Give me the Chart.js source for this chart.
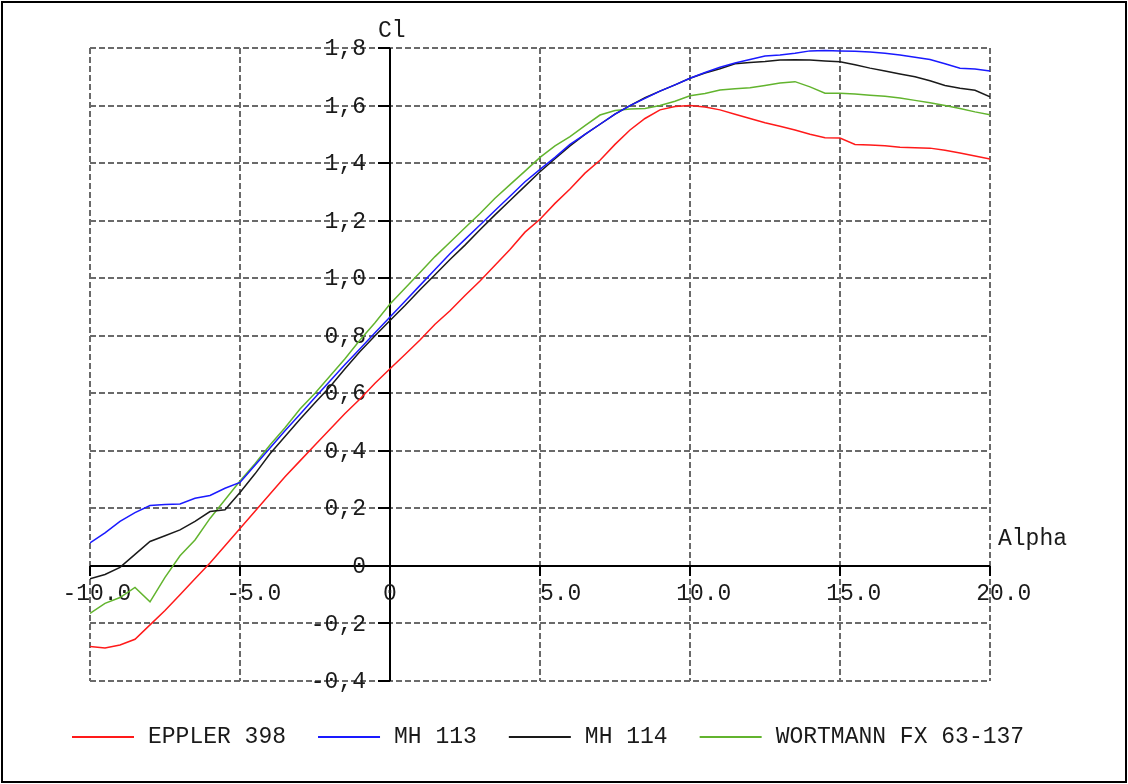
<!DOCTYPE html>
<html>
<head>
<meta charset="utf-8">
<title>Cl vs Alpha</title>
<script src="https://cdn.jsdelivr.net/npm/chart.js@4.4.1/dist/chart.umd.min.js"></script>
<style>
  html, body { margin: 0; padding: 0; background: #fff; }
  #wrap { width: 1128px; height: 784px; }
</style>
</head>
<body>
<div id="wrap"><canvas id="polar" width="1128" height="784"></canvas></div>
<script>
// angle of attack (deg)
const alpha = [-10, -9.5, -9, -8.5, -8, -7.5, -7, -6.5, -6, -5.5, -5, -4.5, -4, -3.5, -3, -2.5, -2, -1.5, -1, -0.5,
  0, 0.5, 1, 1.5, 2, 2.5, 3, 3.5, 4, 4.5, 5, 5.5, 6, 6.5, 7, 7.5, 8, 8.5, 9, 9.5,
  10, 10.5, 11, 11.5, 12, 12.5, 13, 13.5, 14, 14.5, 15, 15.5, 16, 16.5, 17, 17.5, 18, 18.5, 19, 19.5, 20];

// lift coefficient per airfoil
const eppler398 = [-0.28, -0.285, -0.275, -0.255, -0.205, -0.155, -0.1, -0.045, 0.01, 0.07,
  0.13, 0.19, 0.25, 0.31, 0.365, 0.42, 0.475, 0.53, 0.58, 0.635,
  0.685, 0.735, 0.785, 0.84, 0.887, 0.94, 0.99, 1.045, 1.1, 1.16,
  1.205, 1.26, 1.31, 1.365, 1.41, 1.465, 1.515, 1.555, 1.585, 1.597,
  1.6, 1.595, 1.585, 1.57, 1.555, 1.54, 1.528, 1.515, 1.5, 1.488,
  1.487, 1.465, 1.463, 1.46, 1.455, 1.453, 1.452, 1.445, 1.435, 1.425, 1.414];

const mh113 = [0.08, 0.115, 0.155, 0.185, 0.21, 0.213, 0.215, 0.235, 0.245, 0.27,
  0.29, 0.35, 0.41, 0.47, 0.527, 0.585, 0.643, 0.7, 0.755, 0.81,
  0.865, 0.92, 0.975, 1.03, 1.085, 1.135, 1.185, 1.235, 1.285, 1.335,
  1.378, 1.42, 1.465, 1.5, 1.535, 1.57, 1.6, 1.625, 1.65, 1.672,
  1.695, 1.715, 1.733, 1.748, 1.76, 1.772, 1.776, 1.782, 1.79, 1.791,
  1.79, 1.789, 1.786, 1.782, 1.776, 1.768, 1.76, 1.745, 1.73, 1.727, 1.72];

const mh114 = [-0.045, -0.03, -0.005, 0.04, 0.085, 0.105, 0.125, 0.155, 0.189, 0.195,
  0.255, 0.32, 0.39, 0.45, 0.51, 0.567, 0.623, 0.685, 0.745, 0.8,
  0.853, 0.905, 0.96, 1.012, 1.065, 1.115, 1.168, 1.22, 1.27, 1.32,
  1.37, 1.415, 1.46, 1.5, 1.535, 1.57, 1.6, 1.627, 1.65, 1.672,
  1.695, 1.713, 1.728, 1.745, 1.75, 1.753, 1.758, 1.759, 1.758, 1.755,
  1.752, 1.742, 1.73, 1.72, 1.71, 1.7, 1.686, 1.67, 1.66, 1.653, 1.63];

const fx63137 = [-0.165, -0.13, -0.11, -0.075, -0.125, -0.04, 0.035, 0.09, 0.165, 0.23,
  0.295, 0.355, 0.42, 0.48, 0.545, 0.6, 0.66, 0.72, 0.785, 0.845,
  0.91, 0.965, 1.02, 1.075, 1.125, 1.175, 1.225, 1.278, 1.325, 1.372,
  1.42, 1.46, 1.492, 1.53, 1.567, 1.583, 1.588, 1.59, 1.6, 1.615,
  1.634, 1.642, 1.654, 1.658, 1.662, 1.67, 1.678, 1.683, 1.665, 1.643,
  1.643, 1.64, 1.636, 1.632, 1.626, 1.618, 1.61, 1.6, 1.59, 1.578, 1.568];

const seriesNames = ['EPPLER 398', 'MH 113', 'MH 114', 'WORTMANN FX 63-137'];
const seriesColors = ['#ff1a1a', '#1a1aff', '#1a1a1a', '#62b42e'];

// axis ticks and their printed labels
const xTicks = [-10, -5, 0, 5, 10, 15, 20];
const xTickLabels = ['-10.0', '-5.0', '0', '5.0', '10.0', '15.0', '20.0'];
const yTicks = [-0.4, -0.2, 0, 0.2, 0.4, 0.6, 0.8, 1.0, 1.2, 1.4, 1.6, 1.8];
const yTickLabels = ['-0,4', '-0,2', '0', '0,2', '0,4', '0,6', '0,8', '1,0', '1,2', '1,4', '1,6', '1,8'];

const FONT = '23px "Liberation Mono", "DejaVu Sans Mono", monospace';
const TEXT = '#1a1a1a';

function pts(ys) {
  return alpha.map((a, i) => ({ x: a, y: ys[i] }));
}

// axes through the origin, tick marks and tick labels
const originAxes = {
  id: 'originAxes',
  beforeDatasetsDraw(chart) {
    const { ctx, scales: { x, y } } = chart;
    const x0 = x.getPixelForValue(0);
    const y0 = y.getPixelForValue(0);
    ctx.save();
    ctx.strokeStyle = '#000';
    ctx.lineWidth = 2;
    ctx.beginPath();
    ctx.moveTo(x.left, y0); ctx.lineTo(x.right, y0);
    ctx.moveTo(x0, y.top); ctx.lineTo(x0, y.bottom);
    yTicks.forEach(v => {
      const py = Math.round(y.getPixelForValue(v));
      ctx.moveTo(x0 - 12, py); ctx.lineTo(x0, py);
    });
    xTicks.forEach(v => {
      if (v === 0) return;
      const px = Math.round(x.getPixelForValue(v));
      ctx.moveTo(px, y0); ctx.lineTo(px, y0 + 10);
    });
    ctx.stroke();

    ctx.font = FONT;
    ctx.fillStyle = TEXT;
    ctx.textBaseline = 'middle';
    ctx.textAlign = 'right';
    yTicks.forEach((v, i) => {
      ctx.fillText(yTickLabels[i], x0 - 24, y.getPixelForValue(v) + 1);
    });
    // the last digit of the integer part sits on the tick
    const cw = ctx.measureText('0').width;
    ctx.textAlign = 'left';
    xTicks.forEach((v, i) => {
      const s = xTickLabels[i];
      const px = x.getPixelForValue(v);
      const dot = s.indexOf('.');
      if (dot < 0) {
        ctx.textAlign = 'center';
        ctx.fillText(s, px, y0 + 28);
        ctx.textAlign = 'left';
      } else {
        ctx.fillText(s, px - cw * (dot - 1), y0 + 28);
      }
    });
    ctx.restore();
  },
  afterDraw(chart) {
    const { ctx, scales: { x, y } } = chart;
    const x0 = x.getPixelForValue(0);
    const y0 = y.getPixelForValue(0);
    ctx.save();
    ctx.font = FONT;
    ctx.fillStyle = TEXT;
    ctx.textBaseline = 'middle';
    ctx.textAlign = 'left';
    ctx.fillText('Cl', x0 - 12, y.top - 17);
    ctx.fillText('Alpha', x.right + 8, y0 - 27);

    // legend row
    let lx = 72;
    const ly = 737;
    chart.data.datasets.forEach(ds => {
      ctx.strokeStyle = ds.borderColor;
      ctx.lineWidth = 2;
      ctx.beginPath();
      ctx.moveTo(lx, ly); ctx.lineTo(lx + 62, ly);
      ctx.stroke();
      ctx.fillText(ds.label, lx + 76, ly);
      lx += 76 + ctx.measureText(ds.label).width + 32;
    });

    // outer frame
    ctx.strokeStyle = '#000';
    ctx.lineWidth = 2;
    ctx.strokeRect(2, 2, chart.width - 4, chart.height - 4);
    ctx.restore();
  }
};

const gridOpts = {
  color: '#6a6a6a',
  lineWidth: 2,
  drawTicks: false
};

new Chart(document.getElementById('polar'), {
  type: 'line',
  data: {
    datasets: [eppler398, mh113, mh114, fx63137].map((ys, i) => ({
      label: seriesNames[i],
      data: pts(ys),
      borderColor: seriesColors[i],
      borderWidth: 1.5,
      pointRadius: 0,
      tension: 0,
      fill: false
    }))
  },
  options: {
    responsive: false,
    animation: false,
    devicePixelRatio: 1,
    layout: { padding: { left: 90, top: 48, right: 138, bottom: 103 } },
    plugins: { legend: { display: false }, tooltip: { enabled: false } },
    scales: {
      x: {
        type: 'linear',
        min: -10, max: 20,
        ticks: { display: false, stepSize: 5, padding: 0 },
        grid: gridOpts,
        border: { display: false, dash: [6, 3] }
      },
      y: {
        type: 'linear',
        min: -0.4, max: 1.8,
        ticks: { display: false, stepSize: 0.2, padding: 0 },
        grid: gridOpts,
        border: { display: false, dash: [6, 3] }
      }
    }
  },
  plugins: [originAxes]
});
</script>
</body>
</html>
